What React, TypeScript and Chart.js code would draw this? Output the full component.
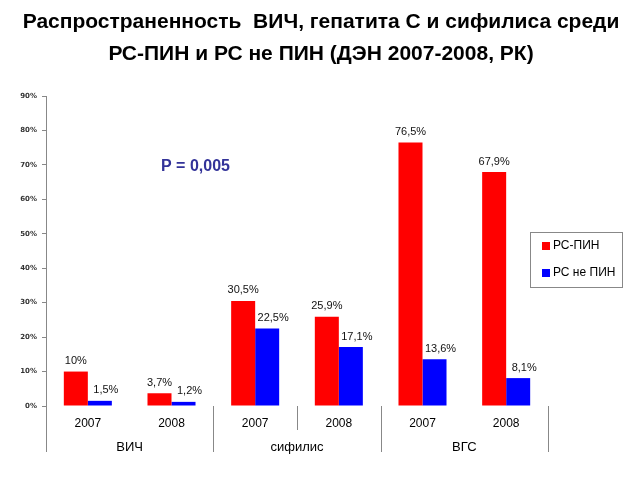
import React, { useEffect, useRef } from "react";
import { Chart, registerables } from "chart.js";

Chart.register(...registerables);

const TITLE_LINES = [
  "Распространенность  ВИЧ, гепатита С и сифилиса среди",
  "РС-ПИН и РС не ПИН (ДЭН 2007-2008, РК)",
];
const CATEGORIES = ["2007", "2008", "2007", "2008", "2007", "2008"];
const GROUPS = ["ВИЧ", "сифилис", "ВГС"];
const SERIES_NAMES = ["РС-ПИН", "РС не ПИН"];
const PIN_VALUES = [10, 3.7, 30.5, 25.9, 76.5, 67.9];
const NON_PIN_VALUES = [1.5, 1.2, 22.5, 17.1, 13.6, 8.1];
const SERIES_COLORS = ["#FF0000", "#0000FF"];
const P_TEXT = "P = 0,005";
const Y_MAX = 90;
const Y_STEP = 10;

const fmt = (v: number) =>
  (Number.isInteger(v) ? String(v) : String(v).replace(".", ",")) + "%";

const FONT = "'Liberation Sans', Arial, sans-serif";

const decorPlugin = {
  id: "decor",
  afterDatasetsDraw(chart: any) {
    const ctx = chart.ctx;
    const area = chart.chartArea;
    const xs = chart.scales.x;
    ctx.save();
    // title
    ctx.font = `bold 21px ${FONT}`;
    ctx.fillStyle = "#000";
    ctx.textAlign = "center";
    ctx.textBaseline = "middle";
    TITLE_LINES.forEach((line, i) => {
      ctx.fillText(line, 321, 22 + i * 32);
    });
    // value labels
    ctx.font = `11px ${FONT}`;
    ctx.fillStyle = "#111";
    chart.data.datasets.forEach((ds: any, di: number) => {
      const meta = chart.getDatasetMeta(di);
      meta.data.forEach((el: any, i: number) => {
        const dx = di === 1 ? 6 : 0;
        ctx.fillText(fmt(ds.data[i]), el.x + dx, el.y - 10.5);
      });
    });
    // axis line extension and group dividers
    ctx.strokeStyle = "#888";
    ctx.lineWidth = 1;
    const px = (i: number) => xs.getPixelForValue(i);
    const mid = (a: number, b: number) => (px(a) + px(b)) / 2;
    const longLines = [area.left, mid(1, 2), mid(3, 4), area.right];
    ctx.beginPath();
    longLines.forEach((x) => {
      const xx = Math.round(x) + 0.5;
      ctx.moveTo(xx, area.bottom);
      ctx.lineTo(xx, area.bottom + 46);
    });
    const sx = Math.round(mid(2, 3)) + 0.5;
    ctx.moveTo(sx, area.bottom);
    ctx.lineTo(sx, area.bottom + 24);
    ctx.stroke();
    // group labels
    ctx.font = `13px ${FONT}`;
    ctx.fillStyle = "#000";
    GROUPS.forEach((g, gi) => {
      ctx.fillText(g, mid(gi * 2, gi * 2 + 1), area.bottom + 41);
    });
    // P value
    ctx.font = `bold 16px ${FONT}`;
    ctx.fillStyle = "#333399";
    ctx.textAlign = "left";
    ctx.fillText(P_TEXT, 161, 167);
    // legend
    ctx.strokeStyle = "#888";
    ctx.strokeRect(530.5, 232.5, 92, 55);
    ctx.font = `12px ${FONT}`;
    SERIES_NAMES.forEach((name, i) => {
      const y = 246 + i * 27;
      ctx.fillStyle = SERIES_COLORS[i];
      ctx.fillRect(542, y - 4, 8, 8);
      ctx.fillStyle = "#000";
      ctx.fillText(name, 553, y);
    });
    ctx.restore();
  },
};

export default function App() {
  const ref = useRef<HTMLCanvasElement | null>(null);
  useEffect(() => {
    if (!ref.current) return;
    const chart = new Chart(ref.current, {
      type: "bar",
      data: {
        labels: CATEGORIES,
        datasets: [
          {
            label: SERIES_NAMES[0],
            data: PIN_VALUES,
            backgroundColor: SERIES_COLORS[0],
            barPercentage: 1,
            categoryPercentage: 0.574,
          },
          {
            label: SERIES_NAMES[1],
            data: NON_PIN_VALUES,
            backgroundColor: SERIES_COLORS[1],
            barPercentage: 1,
            categoryPercentage: 0.574,
          },
        ],
      },
      options: {
        responsive: false,
        animation: false,
        layout: { padding: { left: 0, right: 92, top: 96, bottom: 0 } },
        plugins: {
          legend: { display: false },
          tooltip: { enabled: false },
          title: { display: false },
        },
        scales: {
          x: {
            grid: { display: false, drawTicks: false },
            border: { display: false },
            ticks: {
              color: "#000",
              font: { family: FONT, size: 12 },
              padding: 10,
              maxRotation: 0,
            },
            afterFit: (s: any) => {
              s.height = 74;
            },
          },
          y: {
            min: 0,
            max: Y_MAX,
            grid: { drawOnChartArea: false, color: "#888", tickLength: 4 },
            border: { display: true, color: "#888" },
            ticks: {
              stepSize: Y_STEP,
              color: "#333",
              padding: 5,
              font: { family: "'DejaVu Sans', sans-serif", size: 7, weight: "bold" },
              callback: (v: any) => v + "%",
            },
            afterFit: (s: any) => {
              s.width = 46;
            },
          },
        },
      },
      plugins: [decorPlugin],
    });
    return () => chart.destroy();
  }, []);
  return (
    <div style={{ position: "fixed", left: 0, top: 0, width: 640, height: 480, background: "#fff" }}>
      <canvas ref={ref} width={640} height={480} />
    </div>
  );
}
